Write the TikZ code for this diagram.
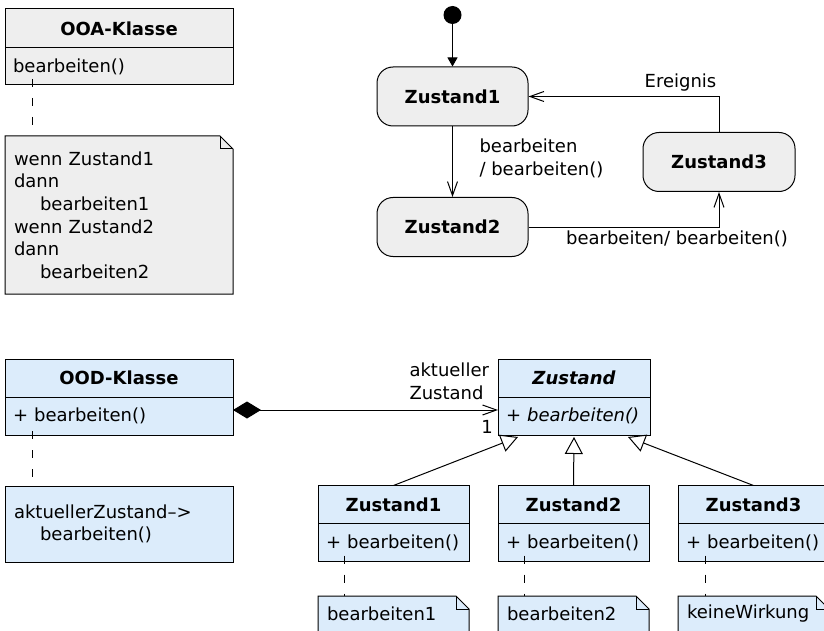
\documentclass[tikz,border=0pt]{standalone}
\usepackage{fontspec}
\setmainfont{DejaVu Sans}
\usepackage{tikz}
\usetikzlibrary{positioning}
\usetikzlibrary{arrows.meta}

\definecolor{ooagray}{RGB}{238,238,238}
\definecolor{oodblue}{RGB}{220,236,251}

\tikzset{
	classhead/.style={draw, font=\bfseries, minimum height=38pt, inner sep=0pt, outer sep=0pt},
	classop/.style={draw, align=left, minimum height=38pt, inner xsep=8pt, inner ysep=0pt, outer sep=0pt, text width=#1},
	notebox/.style={anchor=north west, align=left, inner xsep=9pt, inner ysep=6pt, outer sep=0pt, text width=#1},
	state/.style={draw, fill=ooagray, rounded corners=16pt, font=\bfseries, minimum width=151pt, minimum height=59pt},
	initial/.style={circle, fill=black, minimum size=18pt, inner sep=0pt},
	transition/.style={-{Straight Barb[length=14pt, width=10pt]}},
	initarrow/.style={-{Triangle[length=9pt, width=10pt]}},
	generalization/.style={-{Triangle[open, length=17pt, width=18pt, fill=white]}},
	composition/.style={{Diamond[length=28pt, width=17pt]}-{Straight Barb[length=14pt, width=10pt]}},
	anchorline/.style={dash pattern=on 8pt off 11pt},
}

\begin{document}
\fontsize{18pt}{22.6pt}\selectfont
\hyphenpenalty=10000
\begin{tikzpicture}[x=1pt, y=-1pt, line width=1pt]
	
	\useasboundingbox (0,0) rectangle (824,631);
	\clip (0,0) rectangle (824,631);
	
	% ---------------------
	% OOA class with its note
	\node[classhead, fill=ooagray, minimum width=228pt, minimum height=39pt] (OOATitle) at (119,28.5) {OOA-Klasse};
	\node[classop=212pt, fill=ooagray, minimum height=37pt, below=0pt of OOATitle] (OOAOp) {bearbeiten()};
	
	\node[notebox=210pt, fill=ooagray, minimum height=158pt] (OOANote) at (5,136) {%
		wenn Zustand1\\
		dann\\
		\hspace*{26pt}bearbeiten1\\
		wenn Zustand2\\
		dann\\
		\hspace*{26pt}bearbeiten2};
	
	% ---------------------
	% State machine
	\node[state] (Z1s) at (452.5,96.5) {Zustand1};
	\node[state] (Z2s) at (452.5,227) {Zustand2};
	\node[state, minimum width=152pt] (Z3s) at (719,162) {Zustand3};
	\node[initial, above=42pt of Z1s] (Init) {};
	
	\draw[initarrow] (Init) -- (Z1s.north);
	\draw[transition] (Z1s.south) -- (Z2s.north);
	\draw[transition] (Z2s.east) -| (Z3s.south);
	\draw[transition] (Z3s.north) |- (Z1s.east);
	
	\node[anchor=west, align=left] (TrigLabel) at (473,158.5) {bearbeiten\\/ bearbeiten()};
	\node (StepLabel) at (677,239) {bearbeiten/ bearbeiten()};
	\node (EventLabel) at (680.5,83) {Ereignis};
	
	% ---------------------
	% OOD class, abstract state and concrete states
	\node[classhead, fill=oodblue, minimum width=228pt] (OODTitle) at (119,378) {OOD-Klasse};
	\node[classop=212pt, fill=oodblue, below=0pt of OODTitle] (OODOp) {+~bearbeiten()};
	
	\node[notebox=210pt, fill=oodblue, draw, minimum height=76pt] (OODNote) at (5,486) {%
		aktuellerZustand--{}>\\
		\hspace*{26pt}bearbeiten()};
	
	\node[classhead, fill=oodblue, minimum width=152pt, font=\bfseries\itshape] (ZTitle) at (574,378) {Zustand};
	\node[classop=136pt, fill=oodblue, font=\itshape, below=0pt of ZTitle] (ZOp) {+~bearbeiten()};
	
	\node[classhead, fill=oodblue, minimum width=151pt] (Z1Title) at (393.5,504.5) {Zustand1};
	\node[classop=135pt, fill=oodblue, below=0pt of Z1Title] (Z1Op) {+~bearbeiten()};
	
	\node[classhead, fill=oodblue, minimum width=151pt] (Z2Title) at (573.5,504.5) {Zustand2};
	\node[classop=135pt, fill=oodblue, below=0pt of Z2Title] (Z2Op) {+~bearbeiten()};
	
	\node[classhead, fill=oodblue, minimum width=151pt] (Z3Title) at (753.5,504.5) {Zustand3};
	\node[classop=135pt, fill=oodblue, below=0pt of Z3Title] (Z3Op) {+~bearbeiten()};
	
	\node[notebox=133pt, fill=oodblue, minimum height=36pt] (Z1Note) at (318,596) {bearbeiten1};
	\node[notebox=133pt, fill=oodblue, minimum height=36pt] (Z2Note) at (498,596) {bearbeiten2};
	\node[notebox=133pt, fill=oodblue, minimum height=36pt] (Z3Note) at (678,596) {keineWirkung};
	
	% ------------------------------------------------
	% Association and inheritance
	\draw[composition] ([yshift=6pt]OODOp.east) -- ([yshift=6pt]ZOp.west);
	\node[anchor=west, align=left] (AssocRole) at (403,381) {aktueller\\Zustand};
	\node (AssocMult) at (487,427) {1};
	
	\draw[generalization] (Z1Title.north) -- ([xshift=20pt, yshift=-2pt]ZOp.south west);
	\draw[generalization] (Z2Title.north) -- ([yshift=-2pt]ZOp.south);
	\draw[generalization] (Z3Title.north) -- ([xshift=-22pt, yshift=-2pt]ZOp.south east);
	
	% ------------------------------------------------
	% Note frames with folded corner
	\foreach \n in {OOANote, Z1Note, Z2Note, Z3Note}{
		\fill[white] ([xshift=-13pt]\n.north east) -- (\n.north east) -- ([yshift=-13pt]\n.north east) -- cycle;
		\draw (\n.south west) -- (\n.north west) -- ([xshift=-13pt]\n.north east)
			-- ([yshift=-13pt]\n.north east) -- (\n.south east) -- cycle;
		\draw ([xshift=-13pt]\n.north east) |- ([yshift=-13pt]\n.north east);
	}
	
	% Dashed anchors from operations to notes
	\draw[anchorline] ([xshift=27pt, yshift=6pt]OOAOp.south west) -- ([xshift=27pt]OOANote.north west);
	\draw[anchorline] ([xshift=27pt, yshift=4pt]OODOp.south west) -- ([xshift=27pt]OODNote.north west);
	\draw[anchorline] ([xshift=26pt, yshift=6pt]Z1Op.south west) -- ([xshift=26pt]Z1Note.north west);
	\draw[anchorline] ([xshift=26pt, yshift=6pt]Z2Op.south west) -- ([xshift=26pt]Z2Note.north west);
	\draw[anchorline] ([xshift=27pt, yshift=6pt]Z3Op.south west) -- ([xshift=27pt]Z3Note.north west);
	
\end{tikzpicture}
\end{document}
